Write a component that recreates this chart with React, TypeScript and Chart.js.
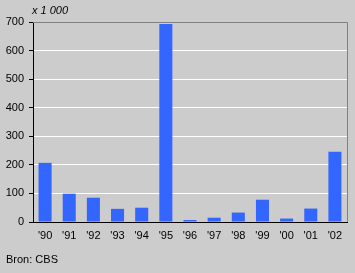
import React, { useEffect, useRef } from "react";
import { Chart, registerables } from "chart.js";

Chart.register(...registerables);

const categories = ["'90", "'91", "'92", "'93", "'94", "'95", "'96", "'97", "'98", "'99", "'00", "'01", "'02"];
const values = [207, 99, 85, 46, 50, 693, 7, 15, 33, 78, 12, 47, 246];
const yTicks = [0, 100, 200, 300, 400, 500, 600, 700];

const FONT = "'Liberation Sans', Arial, sans-serif";

const frame = {
  id: "frame",
  afterDatasetsDraw(chart: any) {
    const { ctx, chartArea } = chart;
    ctx.save();
    ctx.strokeStyle = "#808080";
    ctx.lineWidth = 1;
    ctx.beginPath();
    ctx.moveTo(Math.round(chartArea.left), Math.round(chartArea.top) + 0.5);
    ctx.lineTo(Math.round(chartArea.right) + 0.5, Math.round(chartArea.top) + 0.5);
    ctx.lineTo(Math.round(chartArea.right) + 0.5, Math.round(chartArea.bottom));
    ctx.stroke();
    ctx.restore();
  },
};

export default function App() {
  const ref = useRef<HTMLCanvasElement>(null);
  useEffect(() => {
    document.body.style.margin = "0";
    const chart = new Chart(ref.current!, {
      type: "bar",
      data: {
        labels: categories,
        datasets: [
          {
            data: values,
            backgroundColor: "#3366ff",
            borderWidth: 0,
            barPercentage: 0.54,
            categoryPercentage: 1,
          },
        ],
      },
      options: {
        animation: false,
        responsive: false,
        devicePixelRatio: 1,
        layout: { padding: { top: 22, right: 8, left: 0, bottom: 0 } },
        plugins: { legend: { display: false }, tooltip: { enabled: false } },
        scales: {
          x: {
            grid: { display: false, drawTicks: false, tickLength: 0 },
            border: { display: true, color: "#000000", width: 1 },
            ticks: { color: "#000", font: { family: FONT, size: 11 }, padding: 7, maxRotation: 0, autoSkip: false },
            afterFit: (s: any) => { s.height = 51; },
          },
          y: {
            min: 0,
            max: 700,
            afterBuildTicks: (s: any) => { s.ticks = yTicks.map((v) => ({ value: v })); },
            grid: {
              color: (c: any) => (c.tick && c.tick.value > 0 && c.tick.value < 700 ? "#ffffff" : "rgba(0,0,0,0)"),
              tickColor: "#000000",
              tickLength: 4,
              lineWidth: 1,
            },
            border: { display: true, color: "#000000", width: 1 },
            ticks: { color: "#000", font: { family: FONT, size: 11 }, padding: 5 },
            afterFit: (s: any) => { s.width = 33; },
          },
        },
      },
      plugins: [frame],
    });
    return () => chart.destroy();
  }, []);
  return (
    <div style={{ position: "relative", width: 355, height: 273, background: "#cccccc", fontFamily: FONT, color: "#000" }}>
      <canvas ref={ref} width={355} height={273} style={{ position: "absolute", left: 0, top: 0 }} />
      <div style={{ position: "absolute", left: 32, top: 4, fontSize: 11, fontStyle: "italic", lineHeight: "13px" }}>x 1 000</div>
      <div style={{ position: "absolute", left: 6, top: 253, fontSize: 11, lineHeight: "13px" }}>Bron: CBS</div>
    </div>
  );
}
